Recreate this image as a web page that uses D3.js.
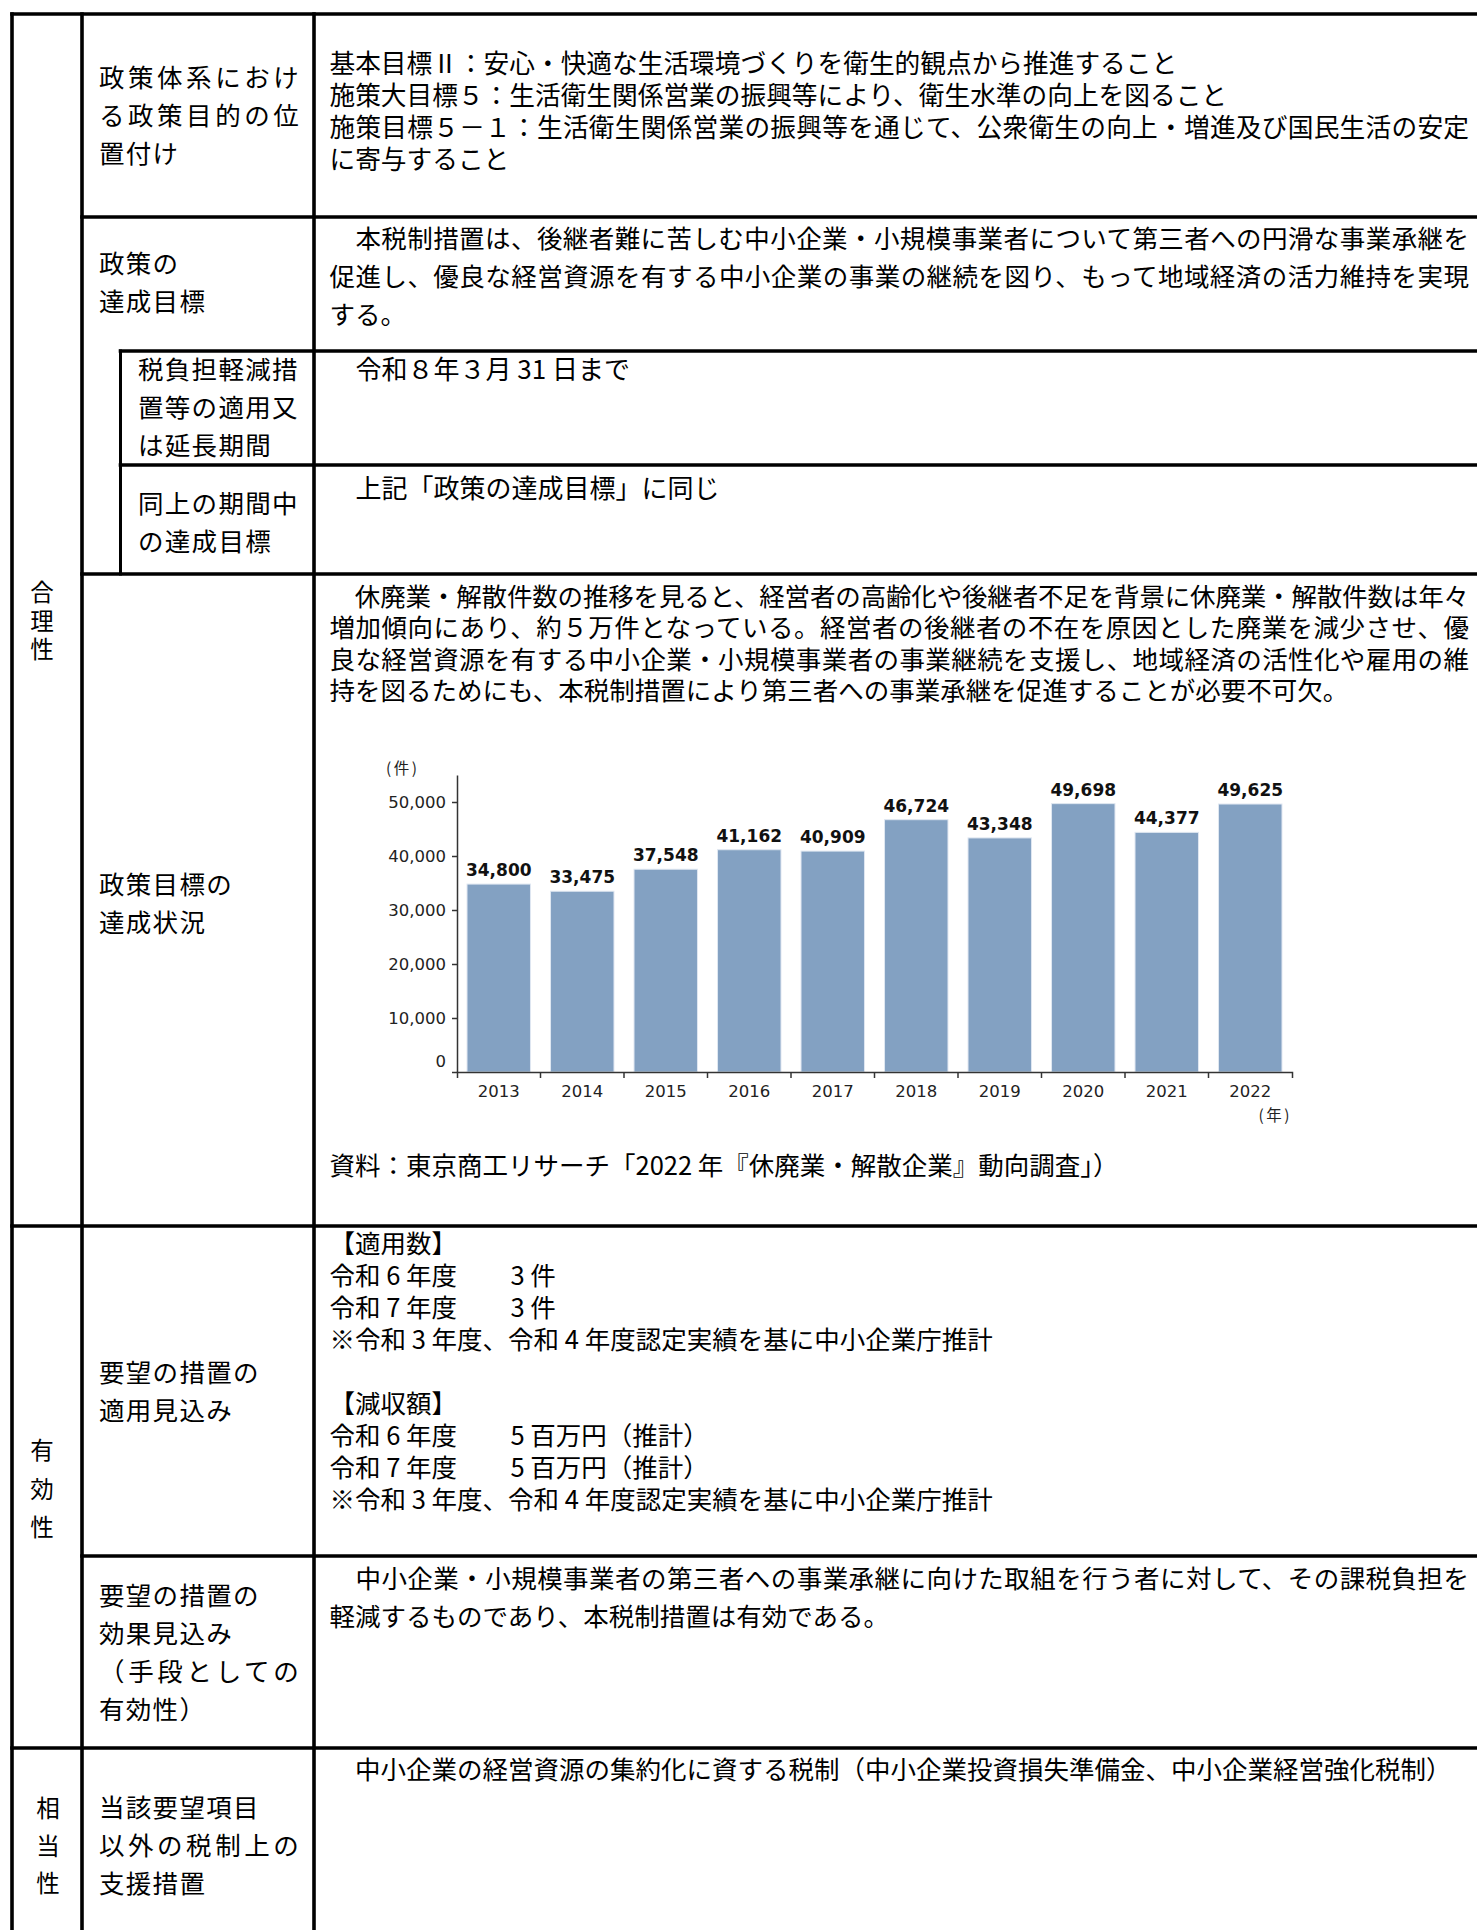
<!DOCTYPE html>
<html><head><meta charset="utf-8">
<script src="https://cdnjs.cloudflare.com/ajax/libs/d3/7.8.5/d3.min.js"></script>
<style>
html,body{margin:0;padding:0;background:#fff;}
svg{display:block;}
</style></head>
<body>
<svg id="page" width="1477" height="1930"></svg>
<script>
// ---------------- DATA ----------------
const years = ["2013","2014","2015","2016","2017","2018","2019","2020","2021","2022"];
const closures = [34800,33475,37548,41162,40909,46724,43348,49698,44377,49625];
const yTickValues = [0,10000,20000,30000,40000,50000];
const yUnit = "(件)";
const xUnit = "(年)";

const sectionLabels = ["合理性","有効性","相当性"];

const labelPolicyPos = ["政策体系におけ","る政策目的の位","置付け"];
const labelGoal = ["政策の","達成目標"];
const labelPeriod = ["税負担軽減措","置等の適用又","は延長期間"];
const labelPeriodGoal = ["同上の期間中","の達成目標"];
const labelStatus = ["政策目標の","達成状況"];
const labelApplyOutlook = ["要望の措置の","適用見込み"];
const labelEffectOutlook = ["要望の措置の","効果見込み","（手段としての","有効性）"];
const labelOtherMeasures = ["当該要望項目","以外の税制上の","支援措置"];

const textPolicyPos = [
  "基本目標Ⅱ：安心・快適な生活環境づくりを衛生的観点から推進すること",
  "施策大目標５：生活衛生関係営業の振興等により、衛生水準の向上を図ること",
  "施策目標５－１：生活衛生関係営業の振興等を通じて、公衆衛生の向上・増進及び国民生活の安定",
  "に寄与すること"
];
const textGoal = [
  "　本税制措置は、後継者難に苦しむ中小企業・小規模事業者について第三者への円滑な事業承継を",
  "促進し、優良な経営資源を有する中小企業の事業の継続を図り、もって地域経済の活力維持を実現",
  "する。"
];
const textPeriod = ["　令和８年３月 31 日まで"];
const textPeriodGoal = ["　上記「政策の達成目標」に同じ"];
const textStatus = [
  "　休廃業・解散件数の推移を見ると、経営者の高齢化や後継者不足を背景に休廃業・解散件数は年々",
  "増加傾向にあり、約５万件となっている。経営者の後継者の不在を原因とした廃業を減少させ、優",
  "良な経営資源を有する中小企業・小規模事業者の事業継続を支援し、地域経済の活性化や雇用の維",
  "持を図るためにも、本税制措置により第三者への事業承継を促進することが必要不可欠。"
];
const textSource = ["資料：東京商工リサーチ「2022 年『休廃業・解散企業』動向調査」）"];
const textApply = [
  "【適用数】",
  "令和 6 年度\t3 件",
  "令和 7 年度\t3 件",
  "※令和 3 年度、令和 4 年度認定実績を基に中小企業庁推計",
  "",
  "【減収額】",
  "令和 6 年度\t5 百万円（推計）",
  "令和 7 年度\t5 百万円（推計）",
  "※令和 3 年度、令和 4 年度認定実績を基に中小企業庁推計"
];
const textEffect = [
  "　中小企業・小規模事業者の第三者への事業承継に向けた取組を行う者に対して、その課税負担を",
  "軽減するものであり、本税制措置は有効である。"
];
const textOther = ["　中小企業の経営資源の集約化に資する税制（中小企業投資損失準備金、中小企業経営強化税制）"];

// ---------------- LAYOUT ----------------
const W = 1477, H = 1930;
const T = {left:12, top:14, c1:82, cn:120.5, c2:314, right:1477, bottom:1930,
           r1:217, r2:351, r3:465, r4:574, r5:1226, r6:1556, r7:1748};
const bodyX = 329.5, bodyRight = 1469, labX = 99, labNX = 138;
const DY = -2.5;
const JP = "'Noto Sans CJK JP','Noto Sans CJK SC',sans-serif";

const svg = d3.select("#page");
svg.append("rect").attr("width",W).attr("height",H).attr("fill","#fff");

// table rules
const hRules = [[T.left,T.right,T.top],[T.c1,T.right,T.r1],[T.cn,T.right,T.r2],[T.cn,T.right,T.r3],
  [T.c1,T.right,T.r4],[T.left,T.right,T.r5],[T.c1,T.right,T.r6],[T.left,T.right,T.r7]];
const vRules = [[T.left,T.top,T.bottom],[T.c1,T.top,T.bottom],[T.c2,T.top,T.bottom],[T.cn,T.r2,T.r4]];
const grid = svg.append("g").attr("stroke","#000").attr("stroke-linecap","square");
grid.selectAll("line.h").data(hRules).join("line").attr("class","h")
  .attr("x1",d=>d[0]).attr("x2",d=>d[1]).attr("y1",d=>d[2]).attr("y2",d=>d[2]).attr("stroke-width",3.6);
grid.selectAll("line.v").data(vRules).join("line").attr("class","v")
  .attr("x1",d=>d[0]).attr("x2",d=>d[0]).attr("y1",d=>d[1]).attr("y2",d=>d[2])
  .attr("stroke-width",(d,i)=>i===3?3:3.6);

const txt = svg.append("g").attr("font-family",JP).attr("fill","#000");

// one <text> per cell paragraph, one <tspan> per printed line
function drawLines(lines, x, y0, pitch, opt={}) {
  const size = opt.size || 25.5;
  const t = txt.append("text").attr("font-size",size).attr("dominant-baseline","central");
  if (opt.ls) t.attr("letter-spacing",opt.ls);
  lines.forEach((s,i)=>{
    if (!s) return;
    const y = y0 + i*pitch + DY;
    const parts = s.split("\t");
    const ts = t.append("tspan").attr("x",x).attr("y",y)
      .attr("dominant-baseline","central").text(parts[0]);
    if (opt.justify && opt.justify.includes(i)) {
      ts.attr("textLength",(opt.right||bodyRight)-x).attr("lengthAdjust","spacing");
    }
    if (opt.fit && [...parts[0]].length>=7) {
      ts.attr("textLength",opt.fit).attr("lengthAdjust","spacing");
    }
    if (parts[1]!==undefined) {
      t.append("tspan").attr("x",x+opt.tab).attr("y",y)
        .attr("dominant-baseline","central").text(parts[1]);
    }
  });
}

// section labels (column 1): vertical writing, one text each
const secSize = 23.5;
const secPos = [{x:42,y:592,p:28.5},{x:42,y:1450,p:38.5},{x:48,y:1808,p:37.5}];
sectionLabels.forEach((s,k)=>{
  txt.append("text")
    .attr("x",secPos[k].x).attr("y",secPos[k].y + 0.5 - secSize/2)
    .style("writing-mode","vertical-rl")
    .attr("font-size",secSize)
    .attr("letter-spacing",secPos[k].p - secSize)
    .text(s);
});

// column 2 labels
const labOpt = {ls:1.3, fit:201};
drawLines(labelPolicyPos, labX, 77.5, 38.2, labOpt);
drawLines(labelGoal, labX, 263, 38.5, labOpt);
drawLines(labelPeriod, labNX, 369, 38.3, {ls:1.3});
drawLines(labelPeriodGoal, labNX, 503, 38.5, {ls:1.3});
drawLines(labelStatus, labX, 884, 38.2, labOpt);
drawLines(labelApplyOutlook, labX, 1372, 38.5, labOpt);
drawLines(labelEffectOutlook, labX, 1595, 38.2, labOpt);
drawLines(labelOtherMeasures, labX, 1807, 38, labOpt);

// body text
drawLines(textPolicyPos, bodyX, 63.5, 32, {justify:[2], size:25.7});
drawLines(textGoal, bodyX, 238, 38, {justify:[0,1]});
drawLines(textPeriod, bodyX, 369, 38, {size:26});
drawLines(textPeriodGoal, bodyX, 488, 38, {size:26});
drawLines(textStatus, bodyX, 596, 31.5, {justify:[0,1,2]});
drawLines(textSource, bodyX, 1165.5, 32);
drawLines(textApply, bodyX, 1243, 32, {tab:181});
drawLines(textEffect, bodyX, 1578, 38, {justify:[0]});
drawLines(textOther, bodyX, 1769, 38);

// ---------------- CHART ----------------
const x = d3.scaleBand().domain(years).range([457,1292]).paddingInner(0.24).paddingOuter(0.12);
const y = d3.scaleLinear().domain([0,55000]).range([1072,775]);
const CF = "'DejaVu Sans',Verdana,sans-serif";
const chart = svg.append("g").attr("font-family",CF);

chart.selectAll("rect.bar").data(years).join("rect").attr("class","bar")
  .attr("x",d=>x(d)).attr("width",x.bandwidth())
  .attr("y",(d,i)=>y(closures[i])).attr("height",(d,i)=>y(0)-y(closures[i]))
  .attr("fill","#83a1c2").attr("stroke","#dfe7f1").attr("stroke-width",1);

// y axis
const yAxis = chart.append("g").attr("transform",`translate(${x.range()[0]},0)`)
  .call(d3.axisLeft(y).tickValues(yTickValues).tickSize(5).tickSizeOuter(0).tickPadding(6)
    .tickFormat(d3.format(",")));
yAxis.selectAll("path,line").attr("stroke","#333").attr("stroke-width",1.5);
yAxis.selectAll("text").attr("font-size",16.5).attr("fill","#222").attr("font-family",CF)
  .attr("dy",d=>d===0?"-0.36em":"0.32em");

// x axis
const xAxis = chart.append("g").attr("transform",`translate(0,${y(0)})`)
  .call(d3.axisBottom(x).tickSize(0).tickSizeOuter(6).tickPadding(13));
xAxis.selectAll("path").attr("stroke","#333").attr("stroke-width",1.5);
xAxis.selectAll("text").attr("font-size",16.5).attr("fill","#222").attr("font-family",CF);
const gap = x.step()*x.paddingInner()/2;
xAxis.selectAll("line.sep").data(years.slice(1)).join("line").attr("class","sep")
  .attr("x1",d=>x(d)-gap).attr("x2",d=>x(d)-gap).attr("y1",0).attr("y2",6)
  .attr("stroke","#333").attr("stroke-width",1.5);

// value labels
chart.selectAll("text.val").data(years).join("text").attr("class","val")
  .attr("x",d=>x(d)+x.bandwidth()/2).attr("y",(d,i)=>y(closures[i])-8)
  .attr("text-anchor","middle").attr("font-size",17).attr("font-weight","bold").attr("fill","#111")
  .text((d,i)=>d3.format(",")(closures[i]));

// unit labels
chart.append("text").attr("x",386).attr("y",y(55000)-8).attr("dominant-baseline","central")
  .attr("font-family",JP).attr("font-size",15.5).attr("letter-spacing",2.5).attr("fill","#222").text(yUnit);
chart.append("text").attr("x",x.range()[1]).attr("y",y(0)+42).attr("text-anchor","end")
  .attr("dominant-baseline","central").attr("letter-spacing",2.5)
  .attr("font-family",JP).attr("font-size",15.5).attr("fill","#222").text(xUnit);
</script>
</body></html>
